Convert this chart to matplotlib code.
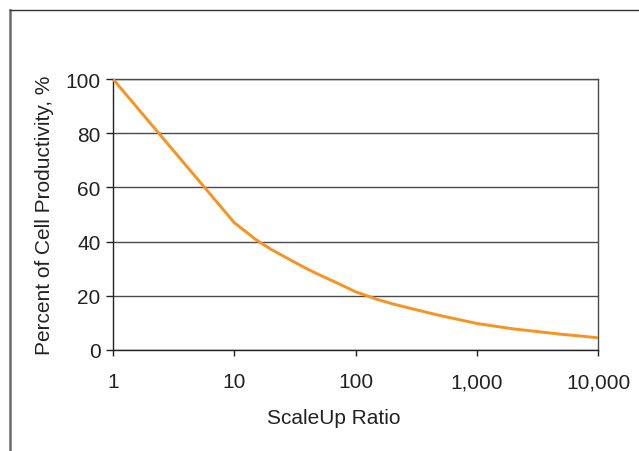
import matplotlib.pyplot as plt
from matplotlib.lines import Line2D
from matplotlib.ticker import FixedLocator, FixedFormatter, NullLocator

plt.rcParams['font.family'] = ['Liberation Sans', 'DejaVu Sans']

# Data
scaleup = [1, 10, 15, 20, 30, 40, 50, 70, 100, 150, 200, 300, 500, 700,
           1000, 1500, 2000, 3000, 5000, 7000, 10000]
productivity = [100, 47, 40.8, 37.2, 32.9, 29.9, 27.8, 24.8, 21.5, 18.7, 17.1, 15.1,
                12.7, 11.3, 9.8, 8.6, 7.8, 6.9, 5.8, 5.2, 4.5]

x_ticks = [1, 10, 100, 1000, 10000]
x_tick_labels = ['1', '10', '100', '1,000', '10,000']
y_ticks = [0, 20, 40, 60, 80, 100]

fig = plt.figure(figsize=(6.39, 4.52), dpi=100)
ax = fig.add_axes([113 / 639, 101 / 452, 485 / 639, 271 / 452])

ax.plot(scaleup, productivity, color='#F7931E', linewidth=2.1,
        solid_joinstyle='round', zorder=3)

ax.set_xscale('log')
ax.set_xlim(1, 10000)
ax.set_ylim(0, 100)
ax.xaxis.set_major_locator(FixedLocator(x_ticks))
ax.xaxis.set_major_formatter(FixedFormatter(x_tick_labels))
ax.xaxis.set_minor_locator(NullLocator())
ax.set_yticks(y_ticks)

# horizontal gridlines
ax.yaxis.grid(True, color='#4a4a4a', linewidth=1.0)
ax.xaxis.grid(False)
ax.set_axisbelow(True)

for side in ['top', 'right']:
    ax.spines[side].set_color('#4a4a4a')
    ax.spines[side].set_linewidth(1.0)
for side in ['left', 'bottom']:
    ax.spines[side].set_color('#222222')
    ax.spines[side].set_linewidth(1.0)

ax.tick_params(axis='y', direction='out', length=5, width=1, color='#222222',
               labelsize=15, labelcolor='#222222', pad=4)
ax.tick_params(axis='x', direction='out', length=4, width=1, color='#222222',
               labelsize=15, labelcolor='#222222', pad=12)

ax.set_xlabel('ScaleUp Ratio', fontsize=15, color='#222222')
ax.xaxis.set_label_coords(0.456, -0.214)
ax.set_ylabel('Percent of Cell Productivity, %', fontsize=15, color='#222222')
ax.yaxis.set_label_coords(-0.122, 0.5)

# outer frame (top and left edges only visible)
fig.add_artist(Line2D([9.5 / 639, 9.5 / 639], [0, 1 - 10.5 / 452],
                      transform=fig.transFigure, color='#6a6a6a', linewidth=1.8))
fig.add_artist(Line2D([9.5 / 639, 1], [1 - 10.5 / 452, 1 - 10.5 / 452],
                      transform=fig.transFigure, color='#333333', linewidth=1.0))

plt.savefig('out.png', dpi=100)
